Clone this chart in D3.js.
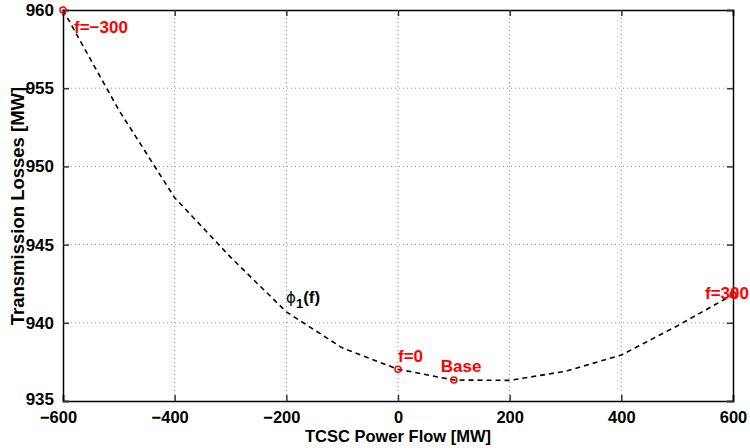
<!DOCTYPE html>
<html><head><meta charset="utf-8">
<script src="https://cdn.jsdelivr.net/npm/d3@7"></script>
<style>body{margin:0;background:#fff}svg{display:block}text{font-family:"Liberation Sans",Arial,Helvetica,sans-serif;font-weight:bold}</style>
</head><body><svg id="c" width="750" height="448"></svg>
<script>
const flow = [-600,-500,-400,-300,-200,-100,0,100,200,300,400,500,600];
const losses = [960,953.6,948.0,944.2,940.7,938.4,937.03,936.34,936.32,936.9,937.94,939.8,941.8];
const markerFlow = [-600,0,100,600];
const markerLoss = [960,937.03,936.34,941.8];
const markerLabels = ["f=\u2212300","f=0","Base","f=300"];
const xTicks = [-600,-400,-200,0,200,400,600];
const yTicks = [935,940,945,950,955,960];
const xTitle = "TCSC Power Flow [MW]";
const yTitle = "Transmission Losses [MW]";

const svg = d3.select("#c");
const L=63,R=733,T=10,B=401;
const x = d3.scaleLinear().domain([-600,600]).range([L,R]);
const y = d3.scaleLinear().domain([935,960]).range([B,T]);
const fmt = v => v<0 ? "\u2212"+Math.abs(v) : String(v);

// grid
const g = svg.append("g");
g.selectAll(".gx").data(xTicks.slice(1,-1)).enter().append("line")
 .attr("x1",d=>x(d)).attr("x2",d=>x(d)).attr("y1",T).attr("y2",B)
 .attr("stroke","#999").attr("stroke-width",1).attr("stroke-dasharray","1,3");
g.selectAll(".gy").data(yTicks.slice(1,-1)).enter().append("line")
 .attr("y1",d=>y(d)).attr("y2",d=>y(d)).attr("x1",L).attr("x2",R)
 .attr("stroke","#999").attr("stroke-width",1).attr("stroke-dasharray","1,3");

// axes
const ax = svg.append("g").attr("transform",`translate(0,${B})`)
 .call(d3.axisBottom(x).tickValues(xTicks).tickSize(-6).tickPadding(10.5).tickFormat(fmt));
const axT = svg.append("g").attr("transform",`translate(0,${T})`)
 .call(d3.axisTop(x).tickValues(xTicks).tickSize(-6).tickFormat(""));
const ay = svg.append("g").attr("transform",`translate(${L},0)`)
 .call(d3.axisLeft(y).tickValues(yTicks).tickSize(-6).tickPadding(9).tickFormat(fmt));
const ayR = svg.append("g").attr("transform",`translate(${R},0)`)
 .call(d3.axisRight(y).tickValues(yTicks).tickSize(-6).tickFormat(""));
[ax,axT,ay,ayR].forEach(a=>{
  a.select(".domain").attr("stroke","#000").attr("stroke-width",1.5);
  a.selectAll(".tick line").attr("stroke","#333").attr("stroke-width",1.5);
  a.selectAll("text").attr("font-size",17).attr("fill","#000")
   .attr("font-family",'"Liberation Sans",Arial,sans-serif').attr("font-weight","bold");
});
ax.selectAll(".tick text").attr("font-size",16.5).attr("dx",d=>d<0?-5:0);
ay.selectAll(".tick text").attr("dy",d=>d===935?"0.2em":"0.32em");

// curve
svg.append("path").datum(flow.map((f,i)=>[f,losses[i]]))
 .attr("d",d3.line().x(d=>x(d[0])).y(d=>y(d[1])))
 .attr("fill","none").attr("stroke","#000").attr("stroke-width",1.6).attr("stroke-dasharray","5,4");

// markers
svg.selectAll(".mk").data(markerFlow).enter().append("circle")
 .attr("cx",d=>x(d)).attr("cy",(d,i)=>y(markerLoss[i])).attr("r",3)
 .attr("fill","none").attr("stroke","#f00").attr("stroke-width",1.5);

const lblOff = [[11,23],[0,-7],[-13,-8],[-28,4]];
svg.selectAll(".ml").data(markerLabels).enter().append("text")
 .attr("x",(d,i)=>x(markerFlow[i])+lblOff[i][0]).attr("y",(d,i)=>y(markerLoss[i])+lblOff[i][1])
 .attr("fill","#f00").attr("font-size",17).text(d=>d);

// phi label
const phi = svg.append("text").attr("x",286).attr("y",303).attr("font-size",17).attr("fill","#000");
phi.append("tspan").attr("font-weight","normal").attr("font-family","DejaVu Sans").attr("font-size",15).text("\u03D5");
phi.append("tspan").attr("font-size",13).attr("dy",5).text("1");
phi.append("tspan").attr("dy",-5).text("(f)");

// titles
svg.append("text").attr("x",398).attr("y",442).attr("text-anchor","middle").attr("font-size",16.5).text(xTitle);
svg.append("text").attr("transform","translate(24,206) rotate(-90)").attr("text-anchor","middle").attr("font-size",18.5).text(yTitle);
</script></body></html>
